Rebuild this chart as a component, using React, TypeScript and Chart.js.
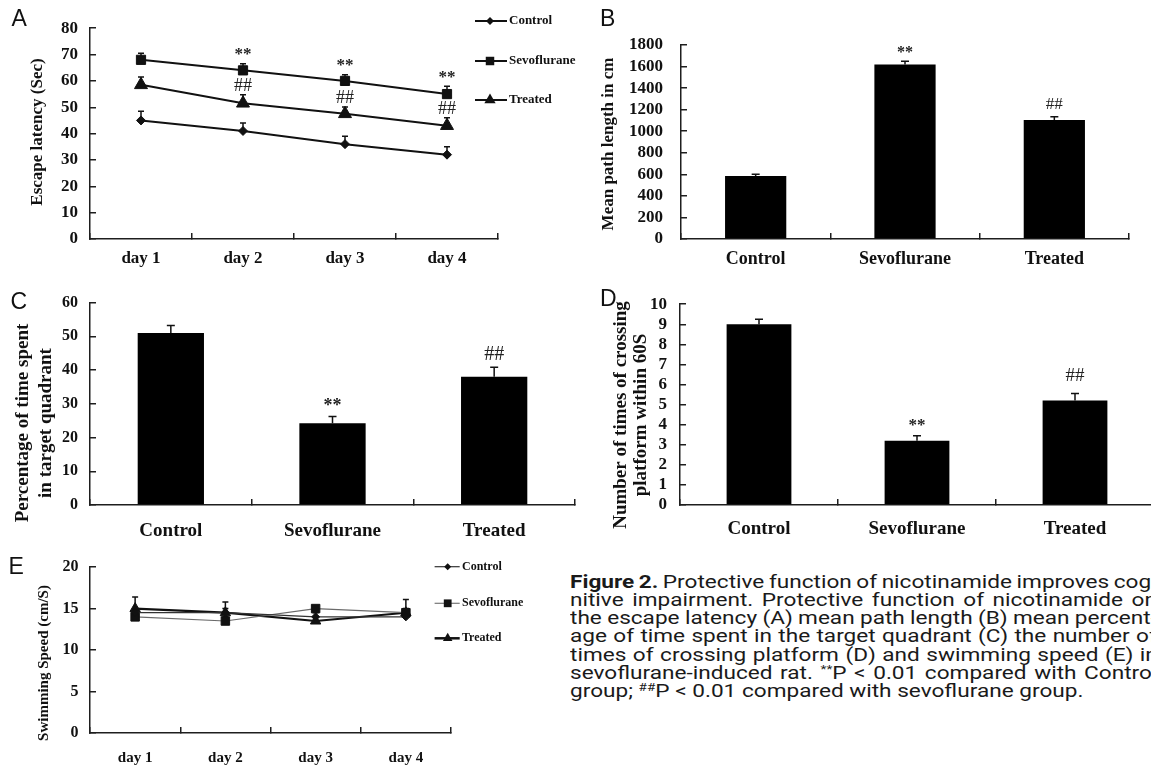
import React, { useEffect, useLayoutEffect, useRef } from 'react';
import { Chart, registerables } from 'chart.js';

Chart.register(...registerables);

const SERIF = '"Liberation Serif", "Times New Roman", serif';
const AXIS = '#1e1e1e';
const INK = '#111111';

// ---------------- data ----------------
const dayLabels = ['day 1', 'day 2', 'day 3', 'day 4'];
const groupLabels = ['Control', 'Sevoflurane', 'Treated'];

// A: escape latency (s)
const latencyControl = [45, 41, 36, 32];
const latencyControlErr = [3.5, 3, 3, 3];
const latencySevo = [68, 64, 60, 55];
const latencySevoErr = [2.5, 2.5, 2.3, 3];
const latencyTreated = [58.5, 51.5, 47.5, 43];
const latencyTreatedErr = [3, 3.2, 2.6, 3];
const latencySevoMarks = ['', '**', '**', '**'];
const latencyTreatedMarks = ['', '##', '##', '##'];

// B: mean path length (cm)
const pathLength = [585, 1620, 1105];
const pathLengthErr = [15, 30, 30];
const pathMarks = ['', '**', '##'];

// C: % time in target quadrant
const quadrantPct = [51, 24.2, 38];
const quadrantErr = [2.2, 2, 2.8];
const quadrantMarks = ['', '**', '##'];

// D: platform crossings within 60 s
const crossings = [9, 3.2, 5.2];
const crossingsErr = [0.25, 0.25, 0.35];
const crossingsMarks = ['', '**', '##'];

// E: swimming speed (cm/s)
const speedControl = [14.5, 14.5, 14, 14];
const speedControlErr = [0.5, 0.5, 0.5, 0.5];
const speedSevo = [14, 13.5, 15, 14.5];
const speedSevoErr = [0.5, 0.5, 0.3, 1.6];
const speedTreated = [15, 14.5, 13.5, 14.5];
const speedTreatedErr = [1.4, 1.3, 0.5, 0.5];

// ---------------- helpers ----------------
type Box = { left: number; top: number; width: number; height: number };
type Area = { L: number; T: number; R: number; B: number };

function frame(box: Box, area: Area) {
  return {
    padding: { left: 0, top: area.T - box.top, right: box.left + box.width - area.R, bottom: 0 },
    yW: area.L - box.left,
    xH: box.top + box.height - area.B,
  };
}

function makeScales(f: any, p: any) {
  const grid = { display: true, drawOnChartArea: false, drawTicks: true, tickLength: -6, color: AXIS, lineWidth: 1.5 };
  const border = { display: true, color: AXIS, width: 1.5 };
  return {
    x: {
      type: 'category',
      offset: true,
      border,
      grid: { ...grid, offset: true },
      ticks: {
        color: INK,
        font: { family: SERIF, weight: 'bold', size: p.catSize },
        padding: p.xPad,
        maxRotation: 0,
        minRotation: 0,
        autoSkip: false,
      },
      afterFit: (s: any) => {
        s.height = f.xH;
      },
    },
    y: {
      type: 'linear',
      min: 0,
      max: p.yMax,
      border,
      grid,
      ticks: {
        stepSize: p.yStep,
        color: INK,
        font: { family: SERIF, weight: 'bold', size: p.tickSize },
        padding: p.yPad,
        autoSkip: false,
        callback: (v: any) => String(v),
      },
      afterFit: (s: any) => {
        s.width = f.yW;
      },
    },
  };
}

function drawMarker(ctx: CanvasRenderingContext2D, style: string, x: number, y: number, r: number) {
  ctx.beginPath();
  if (style === 'rect') {
    const h = r * Math.SQRT1_2;
    ctx.rect(x - h, y - h, 2 * h, 2 * h);
  } else if (style === 'rectRot') {
    ctx.moveTo(x - r, y);
    ctx.lineTo(x, y - r);
    ctx.lineTo(x + r, y);
    ctx.lineTo(x, y + r);
    ctx.closePath();
  } else if (style === 'triangle') {
    for (let k = 0; k < 3; k++) {
      const a = (k * 2 * Math.PI) / 3;
      const px = x + Math.sin(a) * r;
      const py = y - Math.cos(a) * r;
      if (k === 0) ctx.moveTo(px, py);
      else ctx.lineTo(px, py);
    }
    ctx.closePath();
  } else {
    ctx.arc(x, y, r, 0, Math.PI * 2);
  }
  ctx.fill();
}

type Decor = {
  cap: number;
  marks: { text: string; font: string; offset: number }[];
  yTitle: { lines: string[]; font: string; x: number; y: number; gap: number };
  legend?: {
    x0: number; x1: number; mx: number; tx: number; ys: number[]; font: string;
    radii: number[]; widths: number[]; colors: string[];
  };
};

function makeDecor(d: Decor) {
  return {
    id: 'decor',
    beforeDatasetsDraw(chart: any) {
      const ctx = chart.ctx as CanvasRenderingContext2D;
      const ys = chart.scales.y;
      ctx.save();
      ctx.strokeStyle = INK;
      ctx.lineWidth = 1.5;
      chart.data.datasets.forEach((ds: any, di: number) => {
        if (!ds.errors) return;
        const meta = chart.getDatasetMeta(di);
        meta.data.forEach((el: any, i: number) => {
          const top = ys.getPixelForValue(ds.data[i] + ds.errors[i]);
          const half = d.cap / 2;
          ctx.beginPath();
          ctx.moveTo(el.x, el.y);
          ctx.lineTo(el.x, top);
          ctx.moveTo(el.x - half, top);
          ctx.lineTo(el.x + half, top);
          ctx.stroke();
        });
      });
      ctx.restore();
    },
    afterDatasetsDraw(chart: any) {
      const ctx = chart.ctx as CanvasRenderingContext2D;
      const ys = chart.scales.y;
      ctx.save();
      ctx.textAlign = 'center';
      ctx.textBaseline = 'middle';
      chart.data.datasets.forEach((ds: any, di: number) => {
        if (!ds.marks) return;
        const meta = chart.getDatasetMeta(di);
        meta.data.forEach((el: any, i: number) => {
          const m = ds.marks[i];
          if (!m) return;
          const st = d.marks.find((s) => s.text === m);
          if (!st) return;
          const top = ys.getPixelForValue(ds.data[i] + (ds.errors ? ds.errors[i] : 0));
          ctx.font = st.font;
          ctx.fillStyle = '#222';
          ctx.fillText(m, el.x, top - st.offset);
        });
      });
      ctx.restore();
    },
    afterDraw(chart: any) {
      const ctx = chart.ctx as CanvasRenderingContext2D;
      ctx.save();
      const t = d.yTitle;
      ctx.translate(t.x, t.y);
      ctx.rotate(-Math.PI / 2);
      ctx.font = t.font;
      ctx.fillStyle = INK;
      ctx.textAlign = 'center';
      ctx.textBaseline = 'middle';
      t.lines.forEach((ln, k) => ctx.fillText(ln, 0, k * t.gap));
      ctx.restore();
      const lg = d.legend;
      if (lg) {
        ctx.save();
        chart.data.datasets.forEach((ds: any, i: number) => {
          const y = lg.ys[i];
          ctx.strokeStyle = lg.colors[i];
          ctx.lineWidth = lg.widths[i];
          ctx.beginPath();
          ctx.moveTo(lg.x0, y);
          ctx.lineTo(lg.x1, y);
          ctx.stroke();
          ctx.fillStyle = INK;
          drawMarker(ctx, ds.pointStyle, lg.mx, y, lg.radii[i]);
          ctx.font = lg.font;
          ctx.textAlign = 'left';
          ctx.textBaseline = 'middle';
          ctx.fillText(ds.label, lg.tx, y);
        });
        ctx.restore();
      }
    },
  };
}

function baseOptions(f: any, scales: any) {
  return {
    animation: false,
    responsive: true,
    maintainAspectRatio: false,
    events: [],
    layout: { padding: f.padding },
    scales,
    plugins: { legend: { display: false }, tooltip: { enabled: false } },
  };
}

function lineDs(label: string, data: number[], errors: number[], style: string, r: number, width: number, color: string, marks?: string[]) {
  return {
    label,
    data,
    errors,
    marks,
    pointStyle: style,
    pointRadius: r,
    pointBorderWidth: 1,
    borderColor: color,
    backgroundColor: INK,
    pointBackgroundColor: INK,
    pointBorderColor: INK,
    borderWidth: width,
    tension: 0,
  };
}

function barDs(data: number[], errors: number[], marks: string[]) {
  return {
    data,
    errors,
    marks,
    backgroundColor: '#000',
    borderWidth: 0,
    barPercentage: 0.41,
    categoryPercentage: 1,
  };
}

// ---------------- panels ----------------
const boxA: Box = { left: 0, top: 0, width: 582, height: 275 };
const areaA: Area = { L: 90, T: 15, R: 498, B: 239 };
const makeA = () => {
  const f = frame(boxA, areaA);
  return {
    type: 'line',
    data: {
      labels: dayLabels,
      datasets: [
        lineDs('Control', latencyControl, latencyControlErr, 'rectRot', 4.5, 2, INK),
        lineDs('Sevoflurane', latencySevo, latencySevoErr, 'rect', 6.5, 2, INK, latencySevoMarks),
        lineDs('Treated', latencyTreated, latencyTreatedErr, 'triangle', 7.5, 2, INK, latencyTreatedMarks),
      ],
    },
    options: baseOptions(f, makeScales(f, { yMax: 80, yStep: 10, catSize: 17, tickSize: 17, xPad: 15.8, yPad: 18 })),
    plugins: [
      makeDecor({
        cap: 6,
        marks: [
          { text: '**', font: `bold 17px ${SERIF}`, offset: 9 },
          { text: '##', font: `18px ${SERIF}`, offset: 9 },
        ],
        yTitle: { lines: ['Escape latency (Sec)'], font: `bold 17px ${SERIF}`, x: 38, y: 132, gap: 20 },
        legend: {
          x0: 475, x1: 507, mx: 490, tx: 509, ys: [21, 61, 100], font: `bold 13px ${SERIF}`,
          radii: [4, 6, 6.5], widths: [2, 2, 2], colors: [INK, INK, INK],
        },
      }),
    ],
  };
};

const boxB: Box = { left: 580, top: 0, width: 571, height: 275 };
const areaB: Area = { L: 681, T: 45, R: 1129, B: 239 };
const makeB = () => {
  const f = frame(boxB, areaB);
  return {
    type: 'bar',
    data: { labels: groupLabels, datasets: [barDs(pathLength, pathLengthErr, pathMarks)] },
    options: baseOptions(f, makeScales(f, { yMax: 1800, yStep: 200, catSize: 18, tickSize: 17, xPad: 15.2, yPad: 24 })),
    plugins: [
      makeDecor({
        cap: 8,
        marks: [
          { text: '**', font: `bold 16px ${SERIF}`, offset: 8 },
          { text: '##', font: `17px ${SERIF}`, offset: 12 },
        ],
        yTitle: { lines: ['Mean path length in cm'], font: `bold 17px ${SERIF}`, x: 29, y: 144, gap: 20 },
      }),
    ],
  };
};

const boxC: Box = { left: 0, top: 275, width: 580, height: 270 };
const areaC: Area = { L: 90, T: 301, R: 575, B: 505 };
const makeC = () => {
  const f = frame(boxC, areaC);
  return {
    type: 'bar',
    data: { labels: groupLabels, datasets: [barDs(quadrantPct, quadrantErr, quadrantMarks)] },
    options: baseOptions(f, makeScales(f, { yMax: 60, yStep: 10, catSize: 19, tickSize: 16, xPad: 20.2, yPad: 18 })),
    plugins: [
      makeDecor({
        cap: 8,
        marks: [
          { text: '**', font: `bold 18px ${SERIF}`, offset: 10 },
          { text: '##', font: `20px ${SERIF}`, offset: 13 },
        ],
        yTitle: { lines: ['Percentage of time spent', 'in target quadrant'], font: `bold 19px ${SERIF}`, x: 23, y: 148, gap: 23 },
      }),
    ],
  };
};

const boxD: Box = { left: 580, top: 275, width: 580, height: 270 };
const areaD: Area = { L: 680, T: 304, R: 1154, B: 505 };
const makeD = () => {
  const f = frame(boxD, areaD);
  return {
    type: 'bar',
    data: { labels: groupLabels, datasets: [barDs(crossings, crossingsErr, crossingsMarks)] },
    options: baseOptions(f, makeScales(f, { yMax: 10, yStep: 1, catSize: 19, tickSize: 17, xPad: 18.2, yPad: 19 })),
    plugins: [
      makeDecor({
        cap: 8,
        marks: [
          { text: '**', font: `bold 17px ${SERIF}`, offset: 10 },
          { text: '##', font: `19px ${SERIF}`, offset: 18 },
        ],
        yTitle: { lines: ['Number of times of crossing', 'platform within 60S'], font: `bold 19px ${SERIF}`, x: 41, y: 140, gap: 20 },
      }),
    ],
  };
};

const boxE: Box = { left: 0, top: 540, width: 540, height: 228 };
const areaE: Area = { L: 90, T: 563, R: 451, B: 733 };
const makeE = () => {
  const f = frame(boxE, areaE);
  return {
    type: 'line',
    data: {
      labels: dayLabels,
      datasets: [
        lineDs('Control', speedControl, speedControlErr, 'rectRot', 4, 1.2, '#333333'),
        lineDs('Sevoflurane', speedSevo, speedSevoErr, 'rect', 6, 1.2, '#6a6a6a'),
        lineDs('Treated', speedTreated, speedTreatedErr, 'triangle', 6, 2.2, INK),
      ],
    },
    options: baseOptions(f, makeScales(f, { yMax: 20, yStep: 5, catSize: 15, tickSize: 16, xPad: 22.6, yPad: 17.5 })),
    plugins: [
      makeDecor({
        cap: 6,
        marks: [],
        yTitle: { lines: ['Swimming Speed (cm/S)'], font: `bold 15px ${SERIF}`, x: 44, y: 123, gap: 18 },
        legend: {
          x0: 434.6, x1: 459.7, mx: 447.7, tx: 462, ys: [26.7, 63.3, 98.3], font: `bold 12px ${SERIF}`,
          radii: [3.5, 5.5, 5.5], widths: [1.2, 1.2, 2.5], colors: ['#333333', '#777777', INK],
        },
      }),
    ],
  };
};

function Panel({ box, make }: { box: Box; make: () => any }) {
  const ref = useRef<HTMLCanvasElement | null>(null);
  useEffect(() => {
    const chart = new Chart(ref.current as HTMLCanvasElement, make() as any);
    return () => chart.destroy();
  }, [make]);
  return (
    <div style={{ position: 'absolute', left: box.left, top: box.top, width: box.width, height: box.height }}>
      <canvas ref={ref} />
    </div>
  );
}

const letterStyle: React.CSSProperties = {
  position: 'absolute',
  fontFamily: '"Liberation Sans", Arial, sans-serif',
  fontSize: 23,
  lineHeight: '23px',
  color: '#111',
};

const supStyle: React.CSSProperties = {
  fontSize: '0.6em',
  position: 'relative',
  top: '-0.55em',
  verticalAlign: 'baseline',
  lineHeight: 0,
};

const lineStyle: React.CSSProperties = { whiteSpace: 'nowrap', height: '18.33px' };

const CAPTION_LEFT = 569.6;
const CAPTION_RIGHT = 1157;
const CAPTION_LAST_END = 1090;

function Caption() {
  const boxRef = useRef<HTMLDivElement | null>(null);
  useLayoutEffect(() => {
    const box = boxRef.current;
    if (!box) return;
    const spans = Array.from(box.querySelectorAll('span[data-line]')) as HTMLSpanElement[];
    const last = spans[spans.length - 1];
    const lw = last.offsetWidth;
    if (!lw) return;
    const justified = spans.slice(0, -1);
    const maxNat = Math.max(...justified.map((sp) => sp.offsetWidth));
    const sLast = (CAPTION_LAST_END - CAPTION_LEFT) / lw;
    const sMax = (CAPTION_RIGHT - CAPTION_LEFT) / maxNat;
    const s = sLast > sMax ? (sLast + sMax) / 2 : sLast;
    const target = (CAPTION_RIGHT - CAPTION_LEFT) / s;
    box.style.transform = `scaleX(${s})`;
    box.style.width = `${target}px`;
    justified.forEach((sp) => {
      const natural = sp.offsetWidth;
      const n = (sp.textContent || '').split(' ').length - 1;
      if (n > 0) sp.style.wordSpacing = `${(target - natural) / n}px`;
    });
  }, []);
  return (
    <div
      ref={boxRef}
      style={{
        position: 'absolute',
        left: CAPTION_LEFT,
        top: 572.5,
        transformOrigin: '0 0',
        fontFamily: 'Roboto, "Liberation Sans", sans-serif',
        fontSize: 19,
        lineHeight: '18.33px',
        color: '#1a1a1a',
      }}
    >
      <div style={lineStyle}>
        <span data-line="1">
          <b>Figure 2.</b> Protective function of nicotinamide improves cog-
        </span>
      </div>
      <div style={lineStyle}>
        <span data-line="2">nitive impairment. Protective function of nicotinamide on</span>
      </div>
      <div style={lineStyle}>
        <span data-line="3">the escape latency (A) mean path length (B) mean percent-</span>
      </div>
      <div style={lineStyle}>
        <span data-line="4">age of time spent in the target quadrant (C) the number of</span>
      </div>
      <div style={lineStyle}>
        <span data-line="5">times of crossing platform (D) and swimming speed (E) in</span>
      </div>
      <div style={lineStyle}>
        <span data-line="6">
          sevoflurane-induced rat. <span style={supStyle}>**</span>P &lt; 0.01 compared with Control
        </span>
      </div>
      <div style={lineStyle}>
        <span data-line="7">
          group; <span style={supStyle}>##</span>P &lt; 0.01 compared with sevoflurane group.
        </span>
      </div>
    </div>
  );
}

export default function App() {
  return (
    <div
      style={{
        position: 'fixed',
        left: 0,
        top: 0,
        width: 1151,
        height: 768,
        overflow: 'hidden',
        background: '#ffffff',
      }}
    >
      <Panel box={boxA} make={makeA} />
      <Panel box={boxB} make={makeB} />
      <Panel box={boxC} make={makeC} />
      <Panel box={boxD} make={makeD} />
      <Panel box={boxE} make={makeE} />
      <div style={{ ...letterStyle, left: 11.5, top: 7 }}>A</div>
      <div style={{ ...letterStyle, left: 600, top: 7 }}>B</div>
      <div style={{ ...letterStyle, left: 10.6, top: 290.3 }}>C</div>
      <div style={{ ...letterStyle, left: 600, top: 287 }}>D</div>
      <div style={{ ...letterStyle, left: 8.5, top: 555.3 }}>E</div>
      <Caption />
    </div>
  );
}
